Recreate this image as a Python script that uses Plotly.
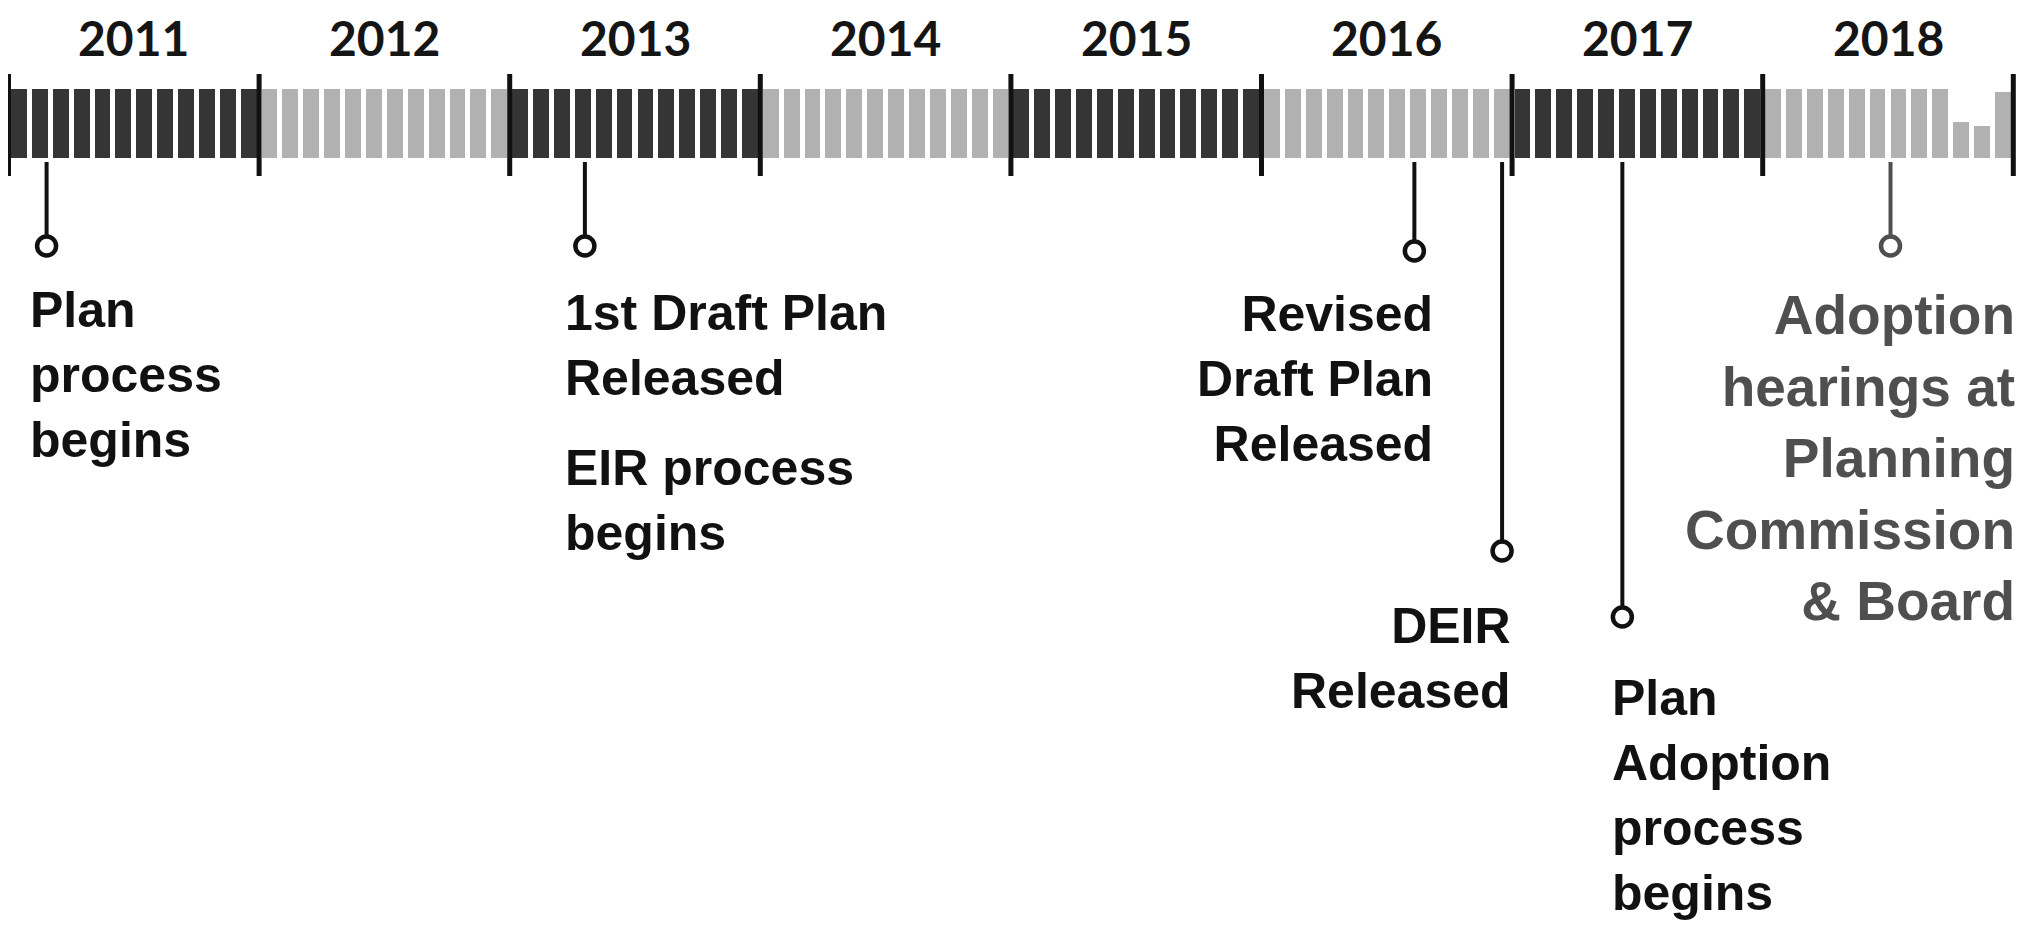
import plotly.graph_objects as go

# ---------------- data ----------------
years = [2011, 2012, 2013, 2014, 2015, 2016, 2017, 2018]
year_labels = ["2011", "2012", "2013", "2014", "2015", "2016", "2017", "2018"]
months = list(range(12))
# fraction of each monthly block that is filled (1 = full); 2018 has a few partial blocks
month_fill = {
    2011: [1] * 12,
    2012: [1] * 12,
    2013: [1] * 12,
    2014: [1] * 12,
    2015: [1] * 12,
    2016: [1] * 12,
    2017: [1] * 12,
    2018: [1, 1, 1, 1, 1, 1, 1, 1, 1, 0.52, 0.46, 0.95],
}

event_dates = [2011.152, 2013.30, 2016.61, 2016.96, 2017.44, 2018.51]
event_labels = [
    ["Plan<br>process<br>begins"],
    ["1st Draft Plan<br>Released", "EIR process<br>begins"],
    ["Revised<br>Draft Plan<br>Released"],
    ["DEIR<br>Released"],
    ["Plan<br>Adoption<br>process<br>begins"],
    ["Adoption<br>hearings at<br>Planning<br>Commission<br>& Board"],
]

# ---------------- layout constants (page-pixel units) ----------------
PAGE_W, PAGE_H = 2028, 931
BODY_MARGIN = 8
W, H = PAGE_W - 2 * BODY_MARGIN, PAGE_H - 2 * BODY_MARGIN
PX_PER_YEAR = 250.6
X0_PX = 8.5                          # page x of the start of the first year
BAR_BOTTOM = 158
BAR_H = 69
TICK_TOP, TICK_BOT = 74, 176
STEM_TOP = 162
YEAR_LABEL_Y = 37
YEAR_FONT_SIZE = 48
stem_len = [84, 84, 89, 389, 455, 84]
label_cfg = [
    # (align side, xshift px, [center y of each text block], font size, color)
    ("left", -19, [375], 50, "#111111"),
    ("left", -22, [345.5, 500.5], 50, "#111111"),
    ("right", 21, [378.5], 50, "#111111"),
    ("right", 11, [658.5], 50, "#111111"),
    ("left", -12, [795], 50, "#111111"),
    ("right", 126, [458], 55, "#4f4f4f"),
]
event_colors = ["#111111"] * 5 + ["#4f4f4f"]
DARK, LIGHT = "#353535", "#b1b1b1"
LABEL_FONT = "Liberation Sans, Arial, Helvetica, sans-serif"

fig = go.Figure()

# monthly blocks
bx, by, bc = [], [], []
for i, yr in enumerate(years):
    for m in months:
        bx.append(yr + (m + 0.5) / 12)
        by.append(-month_fill[yr][m] * BAR_H)
        bc.append(DARK if i % 2 == 0 else LIGHT)
fig.add_trace(go.Bar(x=bx, y=by, base=BAR_BOTTOM, width=0.76 / 12,
                     marker=dict(color=bc, line=dict(width=0)), hoverinfo="skip"))

# year boundary ticks
tx, ty = [], []
for yr in years + [years[-1] + 1]:
    tx += [yr, yr, None]
    ty += [TICK_TOP, TICK_BOT, None]
fig.add_trace(go.Scatter(x=tx, y=ty, mode="lines", line=dict(color="#111111", width=5),
                         hoverinfo="skip"))

# year labels
for yr, lab in zip(years, year_labels):
    fig.add_annotation(x=yr + 0.5, y=YEAR_LABEL_Y, xref="x", yref="y", text=lab,
                       showarrow=False, xanchor="center", yanchor="middle",
                       font=dict(family="Lato", size=YEAR_FONT_SIZE, color="#151515", weight=700))

# event stems + circles + labels
for d, sl, lbls, cfg, col in zip(event_dates, stem_len, event_labels, label_cfg, event_colors):
    cy = STEM_TOP + sl
    fig.add_trace(go.Scatter(x=[d, d], y=[STEM_TOP, cy], mode="lines",
                             line=dict(color=col, width=4), hoverinfo="skip"))
    fig.add_trace(go.Scatter(x=[d], y=[cy], mode="markers",
                             marker=dict(size=19, color="white", line=dict(color=col, width=4.5)),
                             hoverinfo="skip"))
    side, xs, centers, fs, tcol = cfg
    for txt, cyy in zip(lbls, centers):
        fig.add_annotation(x=d, y=cyy, xref="x", yref="y", text=txt, showarrow=False,
                           xanchor=side, yanchor="middle", align=side, xshift=xs,
                           font=dict(family=LABEL_FONT, size=fs, color=tcol, weight=700))

x_lo = years[0] - (X0_PX - BODY_MARGIN) / PX_PER_YEAR
x_hi = x_lo + W / PX_PER_YEAR
fig.update_layout(
    width=W, height=H, margin=dict(l=0, r=0, t=0, b=0),
    paper_bgcolor="white", plot_bgcolor="white", showlegend=False,
    xaxis=dict(range=[x_lo, x_hi], visible=False, fixedrange=True),
    yaxis=dict(range=[BODY_MARGIN + H, BODY_MARGIN], visible=False, fixedrange=True),
    bargap=0,
)
fig.write_html("out.html")
